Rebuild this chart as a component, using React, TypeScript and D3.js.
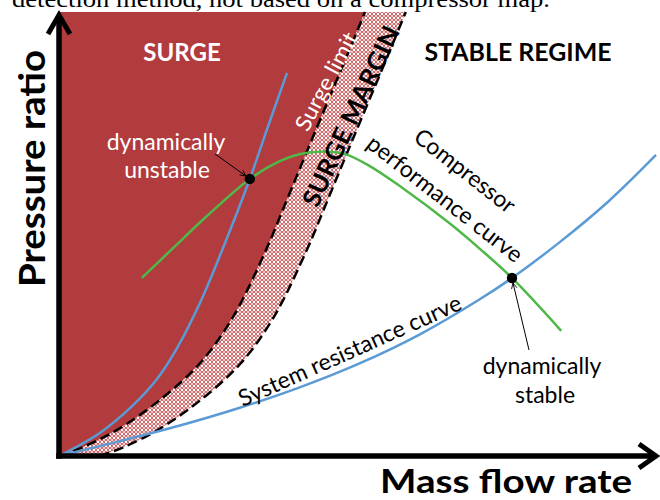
import React from 'react';
import * as d3 from 'd3';

// Conceptual compressor map (arbitrary units, 0..10 on both axes)
const surgeLimit: [number, number][] = [
  [0, 0], [0.40, 0.20], [0.97, 0.59], [1.68, 1.26], [2.35, 2.09], [2.90, 3.13],
  [3.45, 4.64], [3.75, 5.61], [4.23, 7.18], [4.77, 8.92], [5.10, 10],
];
const surgeMarginShift = 0.68;
const unstableSystemCurve: [number, number][] = [
  [0, 0], [0.68, 0.52], [1.20, 1.10], [1.62, 1.71], [1.95, 2.39], [2.37, 3.51],
  [2.72, 4.64], [3.18, 6.24], [3.48, 7.41], [3.80, 8.63],
];
const systemResistanceCurve: [number, number][] = [
  [0, 0], [1, 0.33], [2, 0.68], [3, 1.08], [4, 1.54], [5, 2.08],
  [6, 2.73], [7, 3.52], [7.55, 4.01], [8.33, 4.80], [9.17, 5.75], [9.95, 6.78],
];
const compressorCurve: [number, number][] = [
  [1.38, 4.01], [1.90, 4.68], [2.47, 5.41], [3.18, 6.24], [3.68, 6.64], [4.02, 6.80],
  [4.40, 6.86], [4.77, 6.80], [5.18, 6.53], [5.68, 6.08], [6.52, 5.23], [7.02, 4.66],
  [7.55, 4.01], [8.37, 2.82],
];
const operatingPoints: [number, number][] = [[3.18, 6.24], [7.55, 4.01]];

const RED = '#b23b3e';
const BLUE = '#5b9bd5';
const GREEN = '#4fb848';
const FONT = 'Lato, "Open Sans", sans-serif';

export default function App() {
  const x = d3.scaleLinear().domain([0, 10]).range([59, 659]);
  const y = d3.scaleLinear().domain([0, 10]).range([456, 12]);
  const line = d3
    .line<[number, number]>()
    .x((d) => x(d[0]))
    .y((d) => y(d[1]))
    .curve(d3.curveCatmullRom.alpha(0.5));

  const marginLine: [number, number][] = surgeLimit.map(([a, b]) => [a + surgeMarginShift, b]);
  const surgeRev = [...surgeLimit].reverse();
  const redPath =
    `M${x(0)},${y(0)}L${x(0)},${y(10)}` + (line(surgeRev) as string).replace(/^M/, 'L') + 'Z';
  const hatchPath =
    (line(surgeLimit) as string) + (line([...marginLine].reverse()) as string).replace(/^M/, 'L') + 'Z';

  const [u, s] = operatingPoints;

  return (
    <div style={{ position: 'absolute', left: 0, top: 0 }}>
      <svg width={660} height={500} style={{ display: 'block', background: '#fff' }}>
        <defs>
          <pattern id="circles" width={4} height={4} patternUnits="userSpaceOnUse">
            <rect width={4} height={4} fill="#fff" />
            <circle cx={2} cy={2} r={1.7} fill="#fff" stroke="#c0393c" strokeWidth={0.75} />
          </pattern>
          <marker id="arr" viewBox="0 0 10 10" refX={9} refY={5} markerWidth={7} markerHeight={7} orient="auto">
            <path d="M1,1L9,5L1,9" fill="none" stroke="#000" strokeWidth={1.2} />
          </marker>
        </defs>

        <text x={12} y={7} fontFamily='"Liberation Serif", serif' fontSize={24} textLength={538} lengthAdjust="spacingAndGlyphs">
          detection method, not based on a compressor map.
        </text>

        <path d={redPath} fill={RED} />
        <path d={hatchPath} fill="url(#circles)" />
        <path d={line(surgeLimit) as string} fill="none" stroke="#000" strokeWidth={2.5} strokeDasharray="10 5" />
        <path d={line(marginLine) as string} fill="none" stroke="#000" strokeWidth={2.5} strokeDasharray="10 5" />

        <path d={line(unstableSystemCurve) as string} fill="none" stroke={BLUE} strokeWidth={2.5} />
        <path d={line(systemResistanceCurve) as string} fill="none" stroke={BLUE} strokeWidth={2.5} />
        <path d={line(compressorCurve) as string} fill="none" stroke={GREEN} strokeWidth={2.5} />
        {operatingPoints.map((p, i) => (
          <circle key={i} cx={x(p[0])} cy={y(p[1])} r={5.2} fill="#000" />
        ))}

        <line x1={215} y1={154} x2={x(u[0]) - 4} y2={y(u[1]) - 3} stroke="#000" strokeWidth={1} markerEnd="url(#arr)" />
        <line x1={529} y1={350} x2={x(s[0]) + 1} y2={y(s[1]) + 5} stroke="#000" strokeWidth={1} markerEnd="url(#arr)" />

        <g fontFamily={FONT}>
          <text x={182} y={61} fill="#fff" fontWeight={700} fontSize={24} textAnchor="middle">SURGE</text>
          <text x={518} y={61} fill="#000" fontWeight={700} fontSize={24} textAnchor="middle" textLength={187} lengthAdjust="spacingAndGlyphs">STABLE REGIME</text>
          <text x={166} y={150} fill="#fff" fontSize={23} textAnchor="middle">dynamically</text>
          <text x={167} y={178} fill="#fff" fontSize={23} textAnchor="middle">unstable</text>
          <text x={542} y={374} fill="#000" fontSize={23} textAnchor="middle">dynamically</text>
          <text x={545} y={403} fill="#000" fontSize={23} textAnchor="middle">stable</text>
          <text transform="translate(333,85) rotate(-62)" fill="#fff" fontSize={22} textAnchor="middle" textLength={108} lengthAdjust="spacingAndGlyphs">Surge limit</text>
          <text transform="translate(359,120) rotate(-65)" fill="#000" fontWeight={700} fontSize={25} textAnchor="middle" textLength={196} lengthAdjust="spacingAndGlyphs">SURGE MARGIN</text>
          <text transform="translate(460,177) rotate(38)" fill="#000" fontSize={23} textAnchor="middle">Compressor</text>
          <text transform="translate(440,205) rotate(38)" fill="#000" fontSize={23} textAnchor="middle">performance curve</text>
          <text transform="translate(353,358) rotate(-24)" fill="#000" fontSize={23} textAnchor="middle">System resistance curve</text>
          <text transform="translate(45,168.5) rotate(-90)" fill="#000" fontWeight={700} fontSize={37} textAnchor="middle" textLength={237} lengthAdjust="spacingAndGlyphs">Pressure ratio</text>
          <text x={380} y={493} fill="#000" fontWeight={700} fontSize={33} textLength={252} lengthAdjust="spacingAndGlyphs">Mass flow rate</text>
        </g>

        <line x1={x(0)} y1={y(0) + 2.8} x2={x(0)} y2={17} stroke="#000" strokeWidth={5.5} />
        <polyline points={`${x(0) - 11},34 ${x(0)},15 ${x(0) + 11},34`} fill="none" stroke="#000" strokeWidth={5} />
        <line x1={x(0) - 2.8} y1={y(0)} x2={654} y2={y(0)} stroke="#000" strokeWidth={5.5} />
        <polyline points={`639,${y(0) - 12} 656,${y(0)} 639,${y(0) + 12}`} fill="none" stroke="#000" strokeWidth={5} />
      </svg>
    </div>
  );
}
